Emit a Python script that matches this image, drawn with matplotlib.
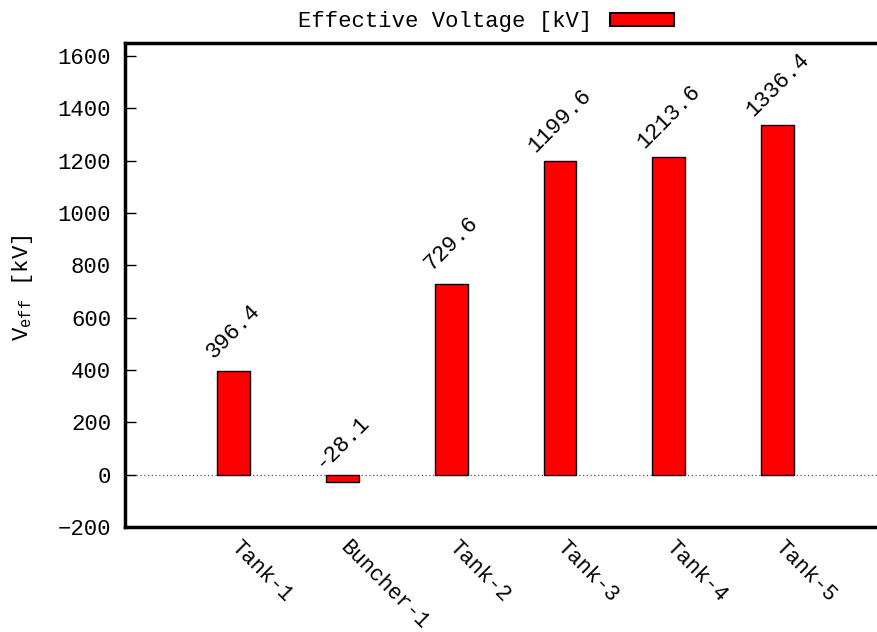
import numpy as np
import matplotlib
matplotlib.use('Agg')
import matplotlib.pyplot as plt
import matplotlib.transforms as mtransforms
from matplotlib.patches import Patch

plt.rcParams['font.family'] = ['Liberation Mono', 'DejaVu Sans Mono']
plt.rcParams['mathtext.default'] = 'regular'
plt.rcParams['font.size'] = 16

cavities = ['Tank-1', 'Buncher-1', 'Tank-2', 'Tank-3', 'Tank-4', 'Tank-5']
v_eff = [396.4, -28.1, 729.6, 1199.6, 1213.6, 1336.4]

x = np.arange(1, len(cavities) + 1)

fig = plt.figure(figsize=(8.77, 6.32), dpi=100)
ax = fig.add_axes([0.1425, 0.166, 0.868, 0.766])

ax.axhline(0, color='#555555', lw=0.9, ls=(0, (1, 2)), zorder=1)
ax.bar(x, v_eff, width=0.3, color='red', edgecolor='black', lw=1, zorder=2)

for xi, v in zip(x, v_eff):
    ax.annotate(f'{v:.1f}', (xi, v), xytext=(0, 40), textcoords='offset pixels',
                ha='center', va='center', rotation=45, fontsize=16)

ax.set_xlim(0, 7)
ax.set_ylim(-200, 1650)
ax.set_yticks(np.arange(-200, 1601, 200))
ax.tick_params(axis='y', direction='in', length=8, width=1, pad=10, labelsize=16)

ax.set_xticks(x)
ax.set_xticklabels(cavities, rotation=-45, ha='left', va='top', rotation_mode='anchor')
ax.tick_params(axis='x', length=0, pad=7, labelsize=15.5)
shift = mtransforms.ScaledTranslation(8 / 100, 0, fig.dpi_scale_trans)
for lbl in ax.get_xticklabels():
    lbl.set_transform(lbl.get_transform() + shift)

for s in ax.spines.values():
    s.set_linewidth(2.5)

fig.text(0.026, 0.545, r'V$_{eff}$ [kV]', rotation=90, ha='center', va='center', fontsize=16)

fig.legend(handles=[Patch(facecolor='red', edgecolor='black', lw=1.5, label='Effective Voltage [kV]')],
           loc='upper center', bbox_to_anchor=(0.554, 1.0), frameon=False, markerfirst=False,
           handlelength=2.85, handleheight=0.5, handletextpad=0.8, borderaxespad=0.1, fontsize=16)

fig.savefig('out.png', dpi=100)
